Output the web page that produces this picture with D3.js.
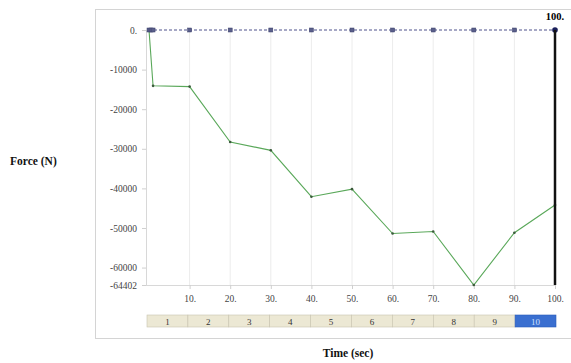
<!DOCTYPE html>
<html><head><meta charset="utf-8">
<script src="https://cdn.jsdelivr.net/npm/d3@7"></script>
<style>body{margin:0;background:#fff}svg{display:block}</style>
</head><body>
<svg id="c" width="571" height="363"></svg>
<script>
const times = [0, 1, 10, 20, 30, 40, 50, 60, 70, 80, 90, 100];
const forces = [0, -14100, -14300, -28300, -30400, -42100, -40200, -51400, -50900, -64402, -51200, -44200];
const markerTimes = [0, 0.5, 1, 10, 20, 30, 40, 50, 60, 70, 80, 90];
const xTicks = [10, 20, 30, 40, 50, 60, 70, 80, 90, 100];
const xTickLabels = ["10.", "20.", "30.", "40.", "50.", "60.", "70.", "80.", "90.", "100."];
const yTicks = [0, -10000, -20000, -30000, -40000, -50000, -60000, -64402];
const yTickLabels = ["0.", "-10000", "-20000", "-30000", "-40000", "-50000", "-60000", "-64402"];
const steps = ["1","2","3","4","5","6","7","8","9","10"];
const currentStep = "10";
const currentTime = 100;

const svg = d3.select("#c");
const x = d3.scaleLinear().domain([0, 100]).range([149, 555]);
const y = d3.scaleLinear().domain([0, -64402]).range([30, 285]);

// panel
svg.append("rect").attr("x", 95.5).attr("y", 9.5).attr("width", 490).attr("height", 329)
  .attr("fill", "#fff").attr("stroke", "#d4d4d4");

// vertical grid
svg.append("g").selectAll("line").data(xTicks).join("line")
  .attr("x1", d => x(d)).attr("x2", d => x(d)).attr("y1", y(0)).attr("y2", y(-64402))
  .attr("stroke", "#ececec");

// y axis
const ya = svg.append("g").attr("transform", "translate(146,0)")
  .call(d3.axisLeft(y).tickValues(yTicks).tickSize(4).tickFormat((d, i) => yTickLabels[i]));
ya.select(".domain").attr("stroke", "#d8d8d8");
ya.selectAll(".tick line").attr("stroke", "#cfcfcf");
ya.selectAll("text").attr("font-family", "Liberation Serif, serif").attr("font-size", 9.5).attr("fill", "#444").attr("dx", -2);

// x axis
const xa = svg.append("g").attr("transform", `translate(0,${y(-64402)})`)
  .call(d3.axisBottom(x).tickValues(xTicks).tickSize(4).tickFormat((d, i) => xTickLabels[i]));
xa.select(".domain").attr("stroke", "#d8d8d8").attr("d", `M146,0.5H555`);
xa.selectAll(".tick line").attr("stroke", "#cfcfcf");
xa.selectAll("text").attr("font-family", "Liberation Serif, serif").attr("font-size", 9.5).attr("fill", "#444").attr("dy", "1.1em");

// dashed zero line
svg.append("line").attr("x1", x(0)).attr("x2", x(100)).attr("y1", y(0)).attr("y2", y(0))
  .attr("stroke", "#3a3f80").attr("stroke-dasharray", "3,2").attr("stroke-width", 0.9);

// force line
const line = d3.line().x((d, i) => x(times[i])).y(d => y(d));
svg.append("path").datum(forces).attr("d", line).attr("fill", "none")
  .attr("stroke", "#5aa85a").attr("stroke-width", 1.1);
svg.append("g").selectAll("circle").data(forces.slice(1)).join("circle")
  .attr("cx", (d, i) => x(times[i + 1])).attr("cy", d => y(d)).attr("r", 1.3).attr("fill", "#3b5a3b");

// square markers on zero line
svg.append("g").selectAll("rect").data(markerTimes).join("rect")
  .attr("x", d => x(d) - 2).attr("y", y(0) - 2).attr("width", 4).attr("height", 4)
  .attr("fill", "#5a5f8a").attr("stroke", "#3a3f6a").attr("stroke-width", 0.5);
svg.append("circle").attr("cx", x(100)).attr("cy", y(0)).attr("r", 2.8).attr("fill", "#1a1f5a");

// current time cursor
svg.append("line").attr("x1", x(currentTime)).attr("x2", x(currentTime)).attr("y1", y(0)).attr("y2", y(-64402))
  .attr("stroke", "#111").attr("stroke-width", 2.5);
svg.append("text").attr("x", x(currentTime)).attr("y", 20).attr("text-anchor", "middle")
  .attr("font-family", "Liberation Serif, serif").attr("font-weight", "bold").attr("font-size", 10.5).text("100.");

// step bar
const sb = d3.scaleBand().domain(steps).range([147, 556]).padding(0);
const g = svg.append("g");
g.selectAll("rect").data(steps).join("rect")
  .attr("x", d => sb(d)).attr("y", 315).attr("width", sb.bandwidth()).attr("height", 12)
  .attr("fill", d => d === currentStep ? "#3a6fd0" : "#ece8d4")
  .attr("stroke", d => d === currentStep ? "#2a5ab8" : "#c8c4b0").attr("stroke-width", 0.6);
g.selectAll("text").data(steps).join("text")
  .attr("x", d => sb(d) + sb.bandwidth() / 2).attr("y", 324.5).attr("text-anchor", "middle")
  .attr("font-family", "Liberation Serif, serif").attr("font-size", 9)
  .attr("fill", d => d === currentStep ? "#cfe0ff" : "#333").text(d => d);

// axis titles
svg.append("text").attr("x", 10).attr("y", 165).attr("font-family", "Liberation Serif, serif")
  .attr("font-weight", "bold").attr("font-size", 11.5).attr("fill", "#111").text("Force (N)");
svg.append("text").attr("x", 348).attr("y", 357).attr("text-anchor", "middle").attr("font-family", "Liberation Serif, serif")
  .attr("font-weight", "bold").attr("font-size", 11.5).attr("fill", "#111").text("Time (sec)");
</script>
</body></html>
